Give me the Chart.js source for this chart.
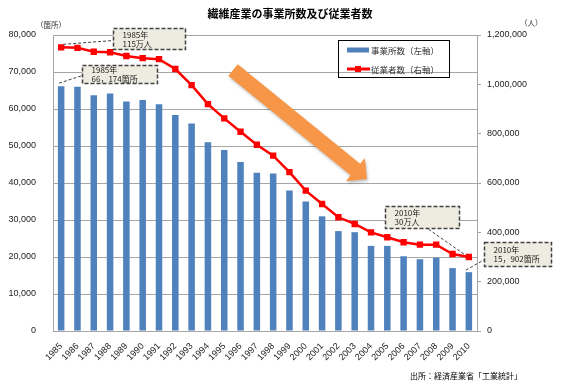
<!DOCTYPE html>
<html lang="ja">
<head>
<meta charset="utf-8">
<script src="https://cdn.jsdelivr.net/npm/chart.js@4"></script>
<style>
  html, body { margin: 0; padding: 0; background: #fff; }
  #wrap { width: 570px; height: 386px; position: relative; }
</style>
</head>
<body>
<div id="wrap"><canvas id="chart"></canvas></div>
<script>
const years = ["1985", "1986", "1987", "1988", "1989", "1990", "1991", "1992", "1993", "1994", "1995", "1996", "1997",
  "1998", "1999", "2000", "2001", "2002", "2003", "2004", "2005", "2006", "2007", "2008", "2009", "2010"];
// 事業所数（左軸）
const establishments = [66174, 66000, 63700, 64200, 62000, 62400, 61300, 58400, 56100, 51000, 48900, 45700, 42800,
  42600, 38000, 35000, 31000, 27000, 26700, 23000, 23000, 20200, 19400, 19800, 17000, 15902];
// 従業者数（右軸）
const employees = [1150000, 1148000, 1132000, 1130000, 1115000, 1106000, 1102000, 1062000, 997000, 920000, 862000,
  808000, 755000, 711000, 644000, 569000, 515000, 461000, 434000, 400000, 380000, 360000, 350000, 350000, 312000, 300000];
const leftTicks = { min: 0, max: 80000, step: 10000 };
const rightTicks = { min: 0, max: 1200000, step: 200000 };

const titleText = "繊維産業の事業所数及び従業者数";
const leftUnit = "（箇所）";
const rightUnit = "（人）";
const sourceText = "出所：経済産業省「工業統計」";
const barLabel = "事業所数（左軸）";
const lineLabel = "従業者数（右軸）";

const BLUE = "#4F81BD";
const RED = "#FF0000";
const GRID = "#A6A6A6";
const JP = "'Noto Sans CJK JP', 'Liberation Sans', sans-serif";

Chart.defaults.font.family = "'Liberation Sans', 'Noto Sans CJK JP', sans-serif";
Chart.defaults.color = "#333";

// callouts anchored on data points
const callouts = [
  { ds: 0, i: 0, dx: 52, dy: -19, w: 72, h: 21, lines: ["1985年", "115万人"], from: [2, -3], to: [0, 12] },
  { ds: 1, i: 0, dx: 21, dy: -21, w: 75, h: 18, lines: ["1985年", "66，174箇所"], from: [-2, -3], to: [0, 10] },
  { ds: 0, i: 25, dx: -84, dy: -51, w: 74, h: 22, lines: ["2010年", "30万人"], from: [-5, -3], to: [42, 22] },
  { ds: 1, i: 25, dx: 15, dy: -30, w: 67, h: 24, lines: ["2010年", "15，902箇所"], from: [-3, -2], to: [0, 17] },
];

function drawArrow(ctx, x0, y0, x1, y1, shaftHalf, headHalf, headLen) {
  const ang = Math.atan2(y1 - y0, x1 - x0);
  const len = Math.hypot(x1 - x0, y1 - y0);
  ctx.save();
  ctx.translate(x0, y0);
  ctx.rotate(ang);
  ctx.beginPath();
  ctx.moveTo(0, -shaftHalf);
  ctx.lineTo(len - headLen, -shaftHalf);
  ctx.lineTo(len - headLen, -headHalf);
  ctx.lineTo(len, 0);
  ctx.lineTo(len - headLen, headHalf);
  ctx.lineTo(len - headLen, shaftHalf);
  ctx.lineTo(0, shaftHalf);
  ctx.closePath();
  ctx.shadowColor = "rgba(0,0,0,0.25)";
  ctx.shadowBlur = 3;
  ctx.shadowOffsetX = 1;
  ctx.shadowOffsetY = 2;
  ctx.fillStyle = "#F79646";
  ctx.fill();
  ctx.restore();
}

const decor = {
  id: "decor",
  afterDatasetsDraw(chart) {
    const { ctx, chartArea: ca } = chart;
    ctx.save();

    // title
    ctx.fillStyle = "#000";
    ctx.font = "bold 11px " + JP;
    ctx.textAlign = "center";
    ctx.textBaseline = "middle";
    ctx.fillText(titleText, 290, 14);

    // axis units
    ctx.font = "7.5px " + JP;
    ctx.fillStyle = "#333";
    ctx.textAlign = "left";
    ctx.fillText(leftUnit, 36, 25);
    ctx.fillText(rightUnit, 520, 23);

    // source
    ctx.font = "8px " + JP;
    ctx.fillStyle = "#000";
    ctx.fillText(sourceText, 410, 376);

    // orange arrow
    drawArrow(ctx, ca.left + 180, ca.top + 35, ca.left + 314, ca.top + 144, 7.5, 15, 15);

    // legend box
    ctx.strokeStyle = "#000";
    ctx.lineWidth = 1;
    ctx.strokeRect(338.5, 40.5, 111, 37);
    ctx.fillStyle = BLUE;
    ctx.fillRect(347, 47.5, 22, 5);
    ctx.strokeStyle = RED;
    ctx.lineWidth = 3;
    ctx.beginPath();
    ctx.moveTo(347, 69);
    ctx.lineTo(370, 69);
    ctx.stroke();
    ctx.fillStyle = RED;
    ctx.fillRect(355, 66, 6, 6);
    ctx.fillStyle = "#333";
    ctx.font = "8.5px " + JP;
    ctx.textAlign = "left";
    ctx.fillText(barLabel, 371, 50.5);
    ctx.fillText(lineLabel, 371, 69.5);

    // callouts
    callouts.forEach((c) => {
      const el = chart.getDatasetMeta(c.ds).data[c.i];
      const px = el.x, py = el.y;
      const bx = Math.round(px + c.dx) + 0.5, by = Math.round(py + c.dy) + 0.5;
      ctx.setLineDash([3, 2]);
      ctx.strokeStyle = "#404040";
      ctx.lineWidth = 1;
      ctx.beginPath();
      ctx.moveTo(px + c.from[0], py + c.from[1]);
      ctx.lineTo(bx + c.to[0], by + c.to[1]);
      ctx.stroke();
      ctx.fillStyle = "#EEECE1";
      ctx.fillRect(bx, by, c.w, c.h);
      ctx.setLineDash([4, 2]);
      ctx.lineWidth = 1.5;
      ctx.strokeRect(bx, by, c.w, c.h);
      ctx.setLineDash([]);
      ctx.fillStyle = "#222";
      ctx.font = "8px " + JP;
      ctx.textAlign = "left";
      ctx.textBaseline = "middle";
      const mid = by + c.h / 2;
      ctx.fillText(c.lines[0], bx + 9, mid - 4.5);
      ctx.fillText(c.lines[1], bx + 9, mid + 4.5);
    });

    ctx.restore();
  },
};

new Chart(document.getElementById("chart"), {
  data: {
    labels: years,
    datasets: [
      {
        type: "line",
        label: lineLabel,
        data: employees,
        yAxisID: "y1",
        borderColor: RED,
        backgroundColor: RED,
        borderWidth: 2.5,
        pointStyle: "rect",
        pointRadius: 4.5,
        pointBorderWidth: 0,
        tension: 0,
        order: 0,
      },
      {
        type: "bar",
        label: barLabel,
        data: establishments,
        yAxisID: "y",
        backgroundColor: BLUE,
        barPercentage: 0.4,
        categoryPercentage: 1,
        order: 1,
      },
    ],
  },
  options: {
    responsive: true,
    maintainAspectRatio: false,
    animation: false,
    layout: { padding: { top: 35, left: 0, right: 0, bottom: 0 } },
    plugins: { legend: { display: false }, tooltip: { enabled: false } },
    scales: {
      x: {
        grid: { display: false },
        border: { color: GRID },
        ticks: {
          autoSkip: false,
          maxRotation: 45,
          minRotation: 45,
          font: { size: 9 },
          padding: 2,
          color: "#222",
        },
        afterFit: (s) => { s.height = 55; },
      },
      y: {
        position: "left",
        min: leftTicks.min,
        max: leftTicks.max,
        ticks: {
          stepSize: leftTicks.step,
          font: { size: 9 },
          padding: 17,
          color: "#222",
          callback: (v) => v.toLocaleString("en-US"),
        },
        grid: { color: GRID, drawTicks: false },
        border: { color: GRID },
        afterFit: (s) => { s.width = 53; },
      },
      y1: {
        position: "right",
        min: rightTicks.min,
        max: rightTicks.max,
        ticks: {
          stepSize: rightTicks.step,
          font: { size: 9 },
          padding: 6,
          color: "#222",
          callback: (v) => v.toLocaleString("en-US"),
        },
        grid: { drawOnChartArea: false, color: GRID, tickLength: 4 },
        border: { color: GRID },
        afterFit: (s) => { s.width = 93; },
      },
    },
  },
  plugins: [decor],
});
</script>
</body>
</html>
